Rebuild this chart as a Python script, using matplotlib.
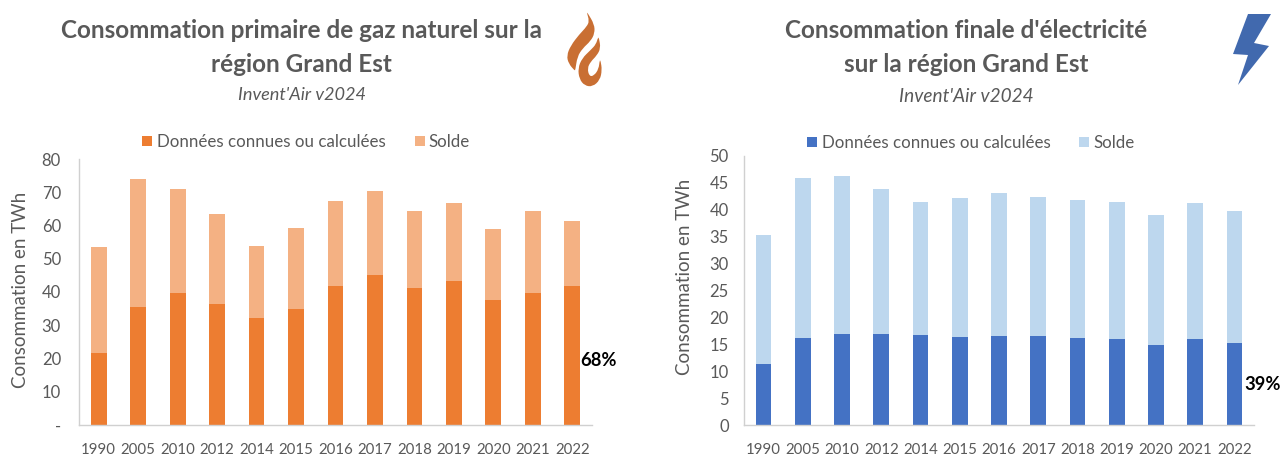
import matplotlib
matplotlib.use("Agg")
import matplotlib.pyplot as plt
from matplotlib.path import Path
from matplotlib.patches import PathPatch, Polygon

plt.rcParams['font.family'] = ['Lato', 'DejaVu Sans']

W, H = 1282, 457
years = ['1990','2005','2010','2012','2014','2015','2016','2017','2018','2019','2020','2021','2022']
gaz_connu = [21.6,35.5,39.8,36.4,32.2,35.0,41.7,45.2,41.3,43.3,37.7,39.6,41.8]
gaz_total = [53.4,74.0,70.9,63.5,53.9,59.2,67.4,70.5,64.5,66.9,59.0,64.3,61.4]
elec_connu = [11.4,16.2,17.0,17.0,16.7,16.4,16.5,16.5,16.2,16.0,14.9,15.9,15.3]
elec_total = [35.3,46.0,46.2,43.9,41.5,42.2,43.1,42.4,41.9,41.5,39.0,41.3,39.7]
gaz_ticks = [0,10,20,30,40,50,60,70,80]
gaz_ticklabels = ['-','10','20','30','40','50','60','70','80']
elec_ticks = [0,5,10,15,20,25,30,35,40,45,50]
GREY = '#595959'

fig = plt.figure(figsize=(W/100, H/100), dpi=100, facecolor='white')

def fx(x): return x / W
def fy(y): return 1 - y / H

def panel(box, known, total, ticks, ticklabels, ymax, c1, c2, pct, pct_xy, legend_y, legend_xs, ylab_x, ypad):
    l, r, t, b = box
    ax = fig.add_axes([fx(l), fy(b), (r-l)/W, (b-t)/H])
    solde = [a-b_ for a, b_ in zip(total, known)]
    xs = list(range(len(years)))
    ax.bar(xs, known, width=0.4, color=c1, edgecolor='none')
    ax.bar(xs, solde, width=0.4, bottom=known, color=c2, edgecolor='none')
    ax.set_xlim(-0.5, 12.5)
    ax.set_ylim(0, ymax)
    ax.set_xticks(xs, years)
    ax.set_yticks(ticks, ticklabels)
    ax.tick_params(axis='x', length=0, labelcolor=GREY, labelsize=10.8, pad=13)
    ax.tick_params(axis='y', length=0, labelcolor=GREY, labelsize=12, pad=ypad)
    for s in ('top', 'right'):
        ax.spines[s].set_visible(False)
    for s in ('left', 'bottom'):
        ax.spines[s].set_color('#D0D0D0')
        ax.spines[s].set_linewidth(1.0)
    fig.text(fx(ylab_x), fy((190+390)/2 if l < 400 else (176+378)/2), 'Consommation en TWh', color=GREY,
             fontsize=13.5, rotation=90, ha='center', va='center')
    fig.text(fx(pct_xy[0]), fy(pct_xy[1]), pct, fontsize=13.2, fontweight='bold',
             color='black', ha='left', va='center')
    x1, xt1, x2, xt2 = legend_xs
    for x, c in ((x1, c1), (x2, c2)):
        fig.patches.append(plt.Rectangle((fx(x), fy(legend_y+5)), 10/W, 10/H,
                           transform=fig.transFigure, color=c, lw=0))
    fig.text(fx(xt1), fy(legend_y+1), 'Données connues ou calculées', color=GREY,
             fontsize=12.2, va='center', ha='left')
    fig.text(fx(xt2), fy(legend_y+1), 'Solde', color=GREY, fontsize=12.2, va='center', ha='left')
    return ax

panel((79, 592, 159, 425), gaz_connu, gaz_total, gaz_ticks, gaz_ticklabels, 80,
      '#ED7D31', '#F4B183', '68%', (580.5, 361), 141, (142, 157, 415, 428), 21, 13)
panel((744, 1254, 156, 425), elec_connu, elec_total, elec_ticks, [str(t) for t in elec_ticks], 50,
      '#4472C4', '#BDD7EE', '39%', (1244.5, 384), 142, (807, 822, 1079, 1093), 685, 11)

def titles(cx, l1, l2, y_sub, sub_size):
    fig.text(fx(cx), fy(31), l1, color=GREY, fontsize=17.5, fontweight='bold', ha='center', va='center')
    fig.text(fx(cx), fy(65), l2, color=GREY, fontsize=17.5, fontweight='bold', ha='center', va='center')
    fig.text(fx(cx), fy(y_sub), "Invent'Air v2024", color=GREY, fontsize=sub_size, fontstyle='italic',
             ha='center', va='center')

titles(301.5, 'Consommation primaire de gaz naturel sur la', 'région Grand Est', 95.5, 13.1)
titles(966, "Consommation finale d'électricité", 'sur la région Grand Est', 96.5, 13.7)

def smooth(points, ox, oy):
    """Closed smooth outline from crop-pixel points (crop scale 3x, offset ox, oy)."""
    pts = [(fx(ox + x/3), fy(oy + y/3)) for x, y in points]
    n = len(pts)
    mid = lambda a, b: ((a[0]+b[0])/2, (a[1]+b[1])/2)
    verts = [mid(pts[-1], pts[0])]
    codes = [Path.MOVETO]
    for i in range(n):
        verts += [pts[i], mid(pts[i], pts[(i+1) % n])]
        codes += [Path.CURVE3, Path.CURVE3]
    return Path(verts, codes)

flame_a = [(110,22),(113,24),(133,58),(134,85),(122,108),(98,130),(82,155),(76,195),(74,197),
           (56,176),(50,152),(62,122),(88,88),(110,65),(118,48)]
flame_b = [(144,97),(147,99),(152,130),(140,152),(122,170),(112,190),(118,214),(132,212),(146,192),(149,165),
           (152,168),(156,195),(150,225),(128,245),(104,242),(88,222),(84,190),(96,160),(122,135),(138,118)]
for f in (flame_a, flame_b):
    fig.patches.append(PathPatch(smooth(f, 550, 5), transform=fig.transFigure,
                                 facecolor='#C96F33', edgecolor='none'))

bolt = [(1248,14),(1271,14),(1254,43),(1269,46),(1238,85),(1248,55),(1233,54)]
fig.patches.append(Polygon([(fx(x), fy(y)) for x, y in bolt], closed=True, transform=fig.transFigure,
                           facecolor='#4169AE', edgecolor='none'))

fig.savefig('out.png', dpi=100, facecolor='white')
